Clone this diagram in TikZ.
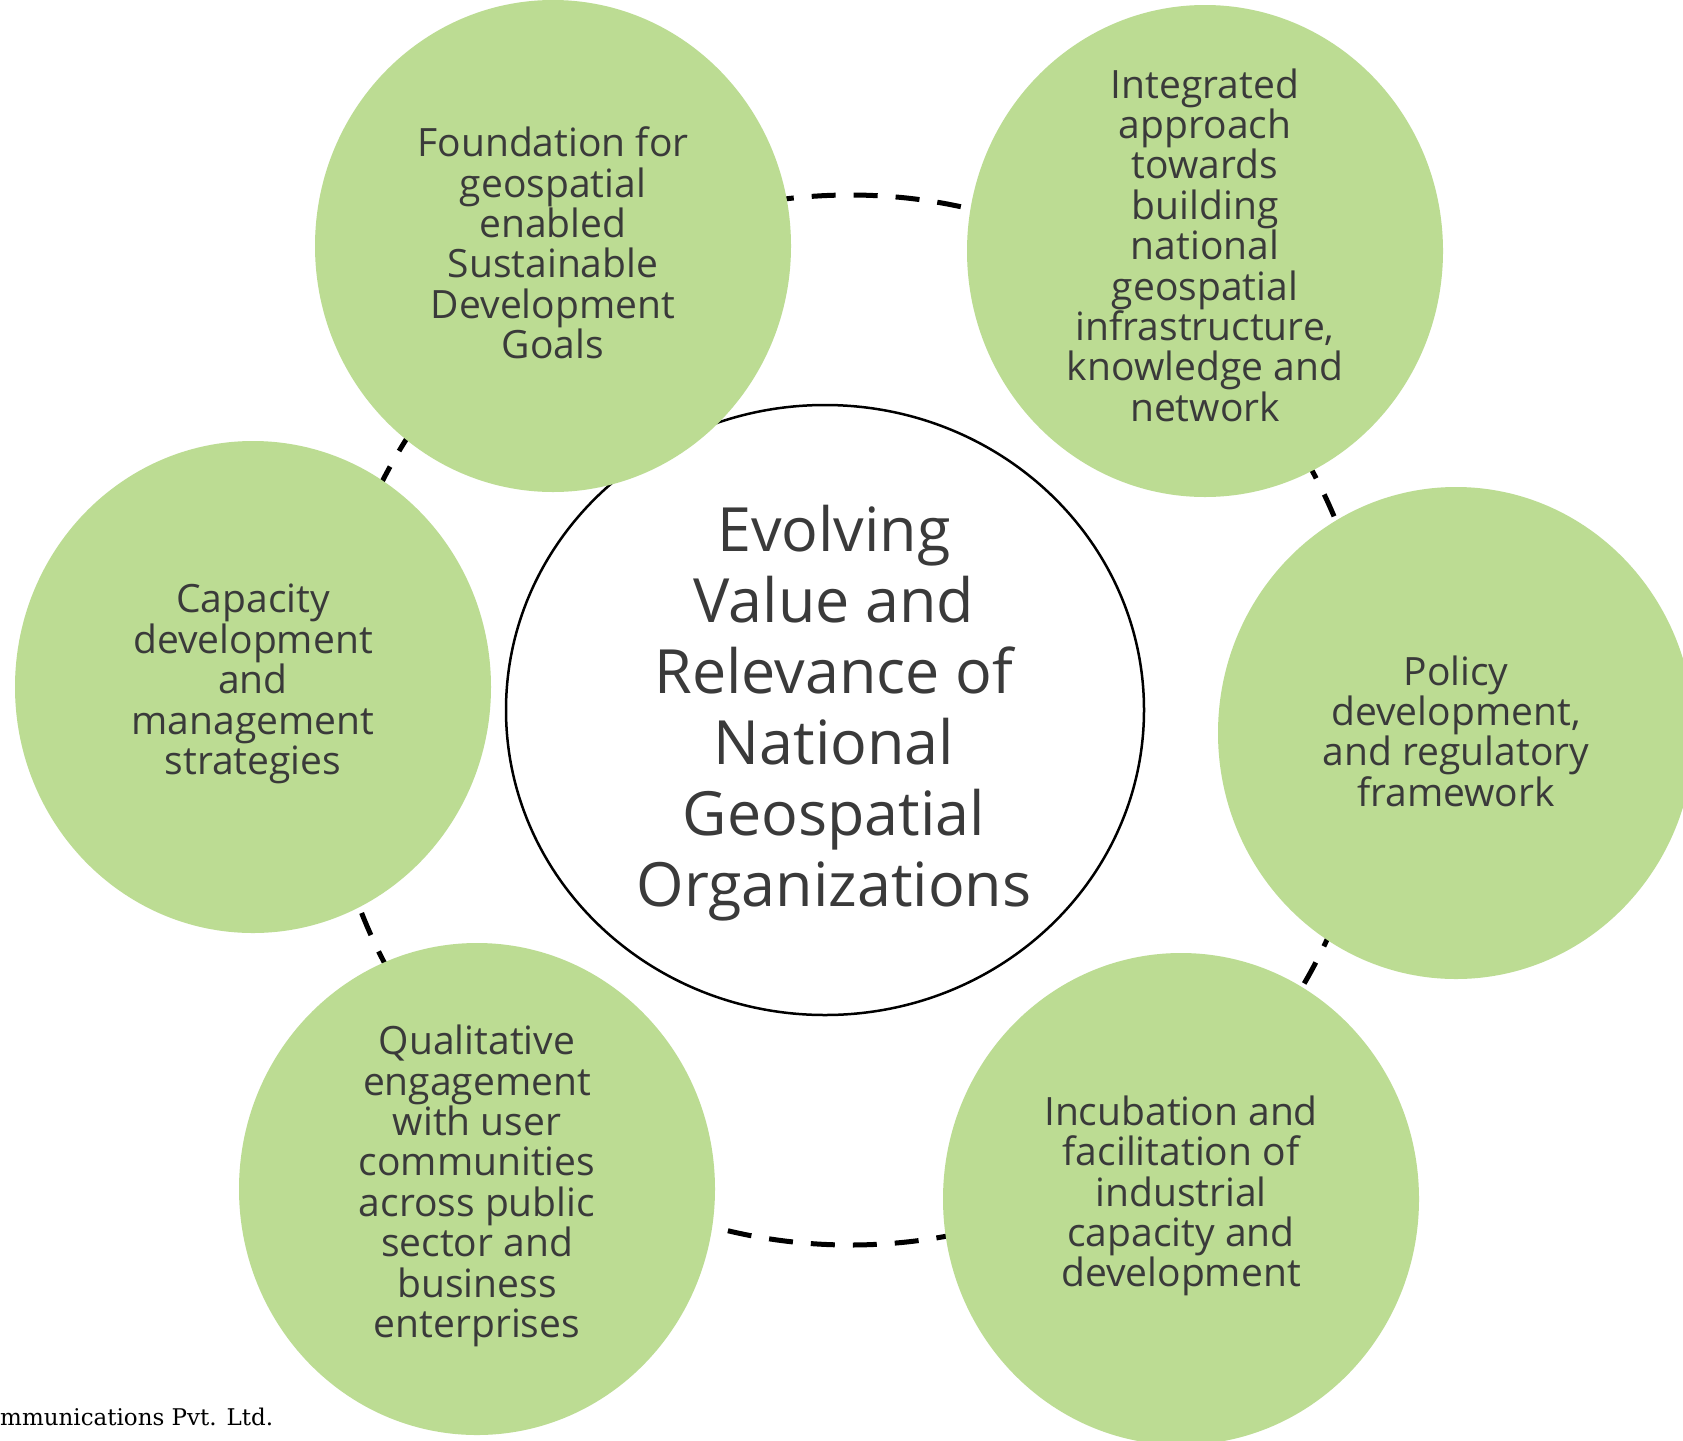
\documentclass[tikz,border=0pt]{standalone}
\usepackage{fontspec}
\setmainfont{Open Sans}
\newfontfamily\slabfont{DejaVu Serif}
\usetikzlibrary{shapes.geometric}
\definecolor{ballgreen}{RGB}{188,220,147}
\definecolor{inkgray}{RGB}{58,58,58}
\begin{document}
\begin{tikzpicture}[x=1pt,y=-1pt,
  ball/.style={ellipse, fill=ballgreen, draw=none, minimum width=476pt, minimum height=492pt, inner sep=0pt},
  balltext/.style={align=center, text=inkgray, font=\fontsize{39}{40.4}\selectfont, inner sep=0pt},
  hub/.style={ellipse, fill=white, draw=black, line width=2.5pt, minimum width=638pt, minimum height=610pt, inner sep=0pt},
  hubtext/.style={align=center, text=inkgray, font=\fontsize{61}{71}\selectfont, inner sep=0pt},
  ring/.style={draw=black, line width=5pt, dash pattern=on 24pt off 18pt}]
\clip (0,0) rectangle (1683,1440);
\fill[white] (0,0) rectangle (1683,1440);
\coordinate (ringc) at (850,720);
\draw[ring] (ringc) circle[radius=525];
\node[hub] (hub) at (825,710) {};
\node[hubtext] (hubt) at (834,713) {Evolving\\Value and\\Relevance of\\National\\Geospatial\\Organizations};
\node[ball] (tl) at (553,246) {};
\node[ball] (tr) at (1205,251) {};
\node[ball] (r) at (1456,733) {};
\node[ball] (l) at (253,687) {};
\node[ball] (bl) at (477,1189) {};
\node[ball] (br) at (1181,1199) {};
\node[balltext] (tlt) at (553,243) {Foundation for\\geospatial\\enabled\\Sustainable\\Development\\Goals};
\node[balltext] (trt) at (1205,245) {Integrated\\approach\\towards\\building\\national\\geospatial\\infrastructure,\\knowledge and\\network};
\node[balltext] (rt) at (1456,731) {Policy\\development,\\and regulatory\\framework};
\node[balltext] (lt) at (253,684) {Capacity\\development\\and\\management\\strategies};
\node[balltext] (blt) at (477,1186) {Qualitative\\engagement\\with user\\communities\\across public\\sector and\\business\\enterprises};
\node[balltext] (brt) at (1181,1196) {Incubation and\\facilitation of\\industrial\\capacity and\\development};
\node[anchor=base west, inner sep=0pt, font=\slabfont\fontsize{23}{26}\selectfont] (credit) at (0,1425) {mmunications Pvt. Ltd.};
\end{tikzpicture}
\end{document}
